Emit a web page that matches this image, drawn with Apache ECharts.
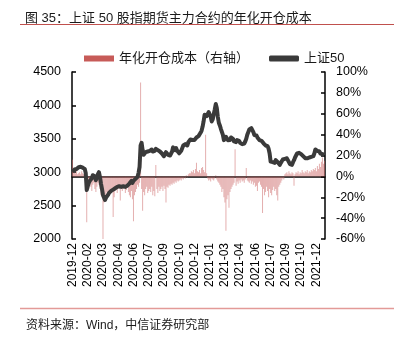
<!DOCTYPE html>
<html>
<head>
<meta charset="utf-8">
<script src="https://cdn.jsdelivr.net/npm/echarts@6/dist/echarts.min.js"></script>
<style>html,body{margin:0;padding:0;background:#fff}#c{width:394px;height:340px}</style>
</head>
<body>
<div id="c"></div>
<script>
// Month of each group of data points (every second trading day)
const monthLabels = ['2019-12','2020-01','2020-02','2020-03','2020-04','2020-05','2020-06','2020-07','2020-08','2020-09','2020-10','2020-11','2020-12','2021-01','2021-02','2021-03','2021-04','2021-05','2021-06','2021-07','2021-08','2021-09','2021-10','2021-11','2021-12'];

// 上证50 index level, grouped by month
const sz50ByMonth = [
  [3005,3020,3040,3055,3048,3063],
  [3075,3088,3082,3078,3068,3072,3050,2990],
  [2733,2790,2840,2870,2890,2910,2955,2950,2935,2880],
  [2900,2970,3000,2930,2830,2750,2660,2640,2585,2620,2640],
  [2660,2690,2700,2720,2710,2740,2730,2760,2750,2780,2800],
  [2790,2800,2780,2760,2790,2810,2780,2770,2800],
  [2810,2830,2850,2870,2840,2870,2890,2900,2880,2930],
  [2990,3080,3400,3440,3330,3260,3270,3300,3290,3310,3330],
  [3320,3300,3340,3310,3290,3320,3350,3360,3330,3340,3310],
  [3300,3280,3258,3240,3270,3300,3290,3260,3240,3250,3270],
  [3310,3372,3350,3330,3360,3320,3300,3283],
  [3290,3320,3360,3400,3390,3420,3430,3400,3450,3470],
  [3490,3510,3482,3460,3482,3500,3520,3507,3540,3560,3590,3620],
  [3680,3760,3860,3880,3840,3870,3900,3882,3830,3760],
  [3790,3870,3940,4020,3960,3830,3740],
  [3700,3650,3632,3560,3480,3500,3530,3510,3480,3490,3482,3520],
  [3530,3500,3460,3480,3450,3480,3507,3470,3440,3430],
  [3420,3407,3430,3460,3500,3560,3600,3640,3657],
  [3660,3640,3600,3557,3580,3550,3520,3500,3480,3460,3470],
  [3450,3432,3420,3400,3382,3390,3350,3280,3158,3170,3150],
  [3160,3140,3180,3200,3150,3133,3110,3140,3160,3190,3170],
  [3200,3220,3208,3180,3150,3120,3108,3110,3150,3180],
  [3220,3250,3280,3307,3290,3300,3270,3250],
  [3240,3220,3210,3230,3208,3200,3220,3210,3230,3220,3240],
  [3280,3340,3357,3320,3300,3310,3280,3260,3270,3265,3258]
];

// 年化开仓成本 (%), grouped by month
const costByMonth = [
  [16,6,4,3,5,2],
  [3,4,2,5,3,2,4,6],
  [-44,-8,-12,-6,-10,-14,-8,-6,-12,-15],
  [-10,-6,-8,-12,-18,-20,-60,-25,-18,-20,-15],
  [-18,-14,-16,-12,-15,-39,-20,-14,-12,-16,-10],
  [-12,-23,-10,-14,-12,-9,-16,-13,-11],
  [-15,-18,-20,-14,-22,-43,-18,-15,-12,-8],
  [-10,-6,90,-12,-33,-15,-18,-12,-10,-16,-14],
  [-12,-15,-10,-18,-14,-19,11,-12,-16,-10,-14],
  [-12,-10,-14,-9,-12,-25,-10,-11,-8,-9,-7],
  [-8,-6,-7,-5,-6,-4,-5,-4],
  [-3,-4,-2,-3,-1,-2,1,-1,2,3],
  [3,5,4,6,3,7,13,5,4,6,3,8],
  [9,6,4,40,3,-2,-4,-3,-5,-2],
  [-3,-4,-2,1,-3,-5,-6],
  [-8,-10,-15,-12,-20,-25,-52,-22,-18,-30,-15,-12],
  [-10,-8,-6,26,-9,-5,-7,-4,-6,-3],
  [-5,-4,-6,-3,8,-4,-5,-6,-4],
  [-7,-5,-8,-6,-10,-9,-14,-6,-5,-8,-10],
  [-35,-12,-18,-15,-10,-14,-20,-12,-16,-18,-13],
  [-10,-14,-12,-18,-23,-10,-8,-6,-4,-2,-3],
  [2,3,4,2,5,3,2,4,3,-9],
  [2,4,3,5,2,4,3,6],
  [4,3,5,4,6,3,5,4,6,5,7],
  [6,8,5,10,7,12,9,14,18,12,15]
];

const leftTicks = {min: 2000, max: 4500, interval: 500};
const rightTicks = {min: -60, max: 100, interval: 20};

const categories = [];
monthLabels.forEach((m, i) => { sz50ByMonth[i].forEach(() => categories.push(m)); });
const sz50 = [].concat(...sz50ByMonth);
const cost = [].concat(...costByMonth);

const FONT = '"Liberation Sans", Arial, "Noto Sans CJK SC", sans-serif';
const chart = echarts.init(document.getElementById('c'), null, {renderer: 'canvas'});
chart.setOption({
  animation: false,
  textStyle: {fontFamily: FONT},
  title: [
    {text: '图 35：上证 50 股指期货主力合约的年化开仓成本', left: 20, top: 7,
     textStyle: {fontSize: 13, fontWeight: 'normal', color: '#1a1a1a', fontFamily: FONT}},
    {text: '资料来源：Wind，中信证券研究部', left: 21, top: 315,
     textStyle: {fontSize: 12, fontWeight: 'normal', color: '#1a1a1a', fontFamily: FONT}}
  ],
  graphic: [
    {type: 'line', shape: {x1: 20, y1: 24.5, x2: 394, y2: 24.5}, style: {stroke: '#c0504d', lineWidth: 1.2}},
    {type: 'line', shape: {x1: 20, y1: 308.5, x2: 394, y2: 308.5}, style: {stroke: '#e39a98', lineWidth: 1.5}}
  ],
  legend: {
    top: 47, left: 79, itemWidth: 30, itemHeight: 6, itemGap: 20,
    textStyle: {fontSize: 13, color: '#1a1a1a', fontFamily: FONT},
    data: [
      {name: '年化开仓成本（右轴）', icon: 'rect', itemStyle: {color: '#c75b58'}},
      {name: '上证50', icon: 'roundRect', itemStyle: {color: '#3a3a3a'}}
    ]
  },
  grid: {left: 72, right: 69, top: 72, bottom: 101, containLabel: false},
  xAxis: {
    type: 'category', data: categories, boundaryGap: true,
    axisLine: {lineStyle: {color: '#000', width: 1.5}},
    axisTick: {show: false},
    axisLabel: {rotate: 90, interval: 14, fontSize: 12, color: '#000', margin: 4, fontFamily: FONT}
  },
  yAxis: [
    {type: 'value', min: leftTicks.min, max: leftTicks.max, interval: leftTicks.interval, position: 'left',
     axisLine: {show: true, lineStyle: {color: '#000', width: 1.5}},
     axisTick: {show: true, inside: true, length: 4, lineStyle: {color: '#000', width: 1.5}},
     splitLine: {show: false},
     axisLabel: {fontSize: 12.5, color: '#000', margin: 11, fontFamily: FONT, formatter: v => String(v)}},
    {type: 'value', min: rightTicks.min, max: rightTicks.max, interval: rightTicks.interval, position: 'right',
     axisLine: {show: true, lineStyle: {color: '#000', width: 1.5}},
     axisTick: {show: true, inside: true, length: 4, lineStyle: {color: '#000', width: 1.5}},
     splitLine: {show: false},
     axisLabel: {fontSize: 12.5, color: '#000', margin: 11, formatter: '{value}%', fontFamily: FONT}}
  ],
  series: [
    {name: '年化开仓成本（右轴）', type: 'bar', yAxisIndex: 1, data: cost,
     barWidth: 0.7, itemStyle: {color: 'rgba(205,110,110,0.55)'}},
    {name: '上证50', type: 'line', yAxisIndex: 0, data: sz50, showSymbol: false, symbol: 'none',
     lineStyle: {color: '#3a3a3a', width: 4, join: 'round'}, itemStyle: {color: '#3a3a3a'}}
  ]
});
</script>
</body>
</html>
